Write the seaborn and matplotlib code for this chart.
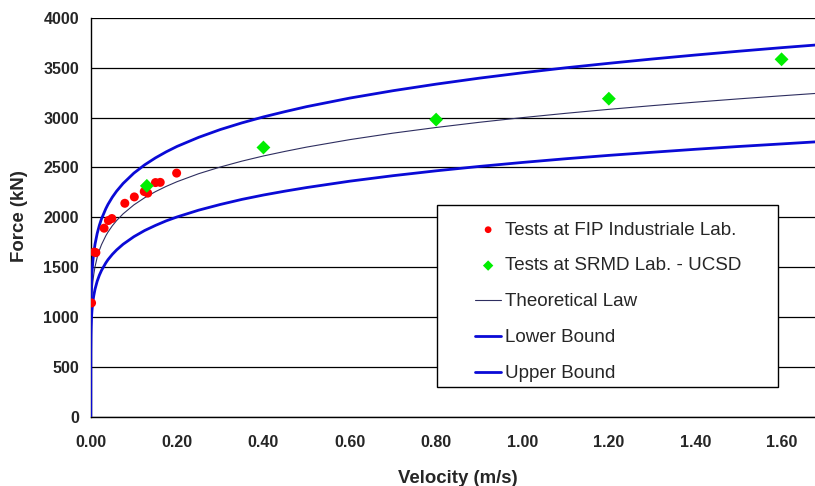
import matplotlib
matplotlib.use("Agg")
import matplotlib.pyplot as plt
from matplotlib.patches import Rectangle
from matplotlib.ticker import MultipleLocator, FormatStrFormatter
import seaborn as sns

# velocity samples along the curves (m/s) and forces (kN)
curve_velocity = [0.0, 0.0001, 0.0005, 0.001, 0.002, 0.003, 0.005, 0.007, 0.01, 0.015,
                  0.02, 0.025, 0.035, 0.04, 0.05, 0.06, 0.075, 0.1, 0.125, 0.15,
                  0.175, 0.2, 0.25, 0.3, 0.35, 0.4, 0.45, 0.5, 0.6, 0.7,
                  0.8, 0.9, 1.0, 1.1, 1.2, 1.3, 1.4, 1.5, 1.6, 1.68]
theoretical_force = [0, 754, 959, 1064, 1181, 1255, 1355, 1425, 1504, 1598,
                     1668, 1725, 1814, 1851, 1914, 1967, 2034, 2124, 2196, 2257,
                     2310, 2357, 2437, 2504, 2563, 2615, 2661, 2704, 2779, 2844,
                     2901, 2953, 3000, 3043, 3083, 3120, 3155, 3188, 3219, 3243]
lower_force = [0, 641, 815, 905, 1004, 1067, 1152, 1211, 1278, 1358,
               1418, 1466, 1542, 1574, 1627, 1672, 1729, 1805, 1867, 1918,
               1964, 2003, 2071, 2128, 2179, 2223, 2262, 2298, 2362, 2417,
               2466, 2510, 2550, 2587, 2621, 2652, 2682, 2710, 2736, 2757]
upper_force = [0, 867, 1103, 1224, 1358, 1443, 1558, 1639, 1730, 1837,
               1918, 1984, 2086, 2129, 2201, 2262, 2339, 2443, 2526, 2596,
               2657, 2711, 2802, 2880, 2947, 3007, 3060, 3110, 3196, 3270,
               3336, 3396, 3450, 3500, 3545, 3588, 3628, 3666, 3702, 3729]

# test results
fip_velocity = [0.002, 0.008, 0.012, 0.031, 0.041, 0.049, 0.079, 0.101, 0.124, 0.132,
                0.150, 0.161, 0.199]
fip_force = [1140, 1650, 1645, 1890, 1967, 1987, 2140, 2204, 2258, 2242,
             2348, 2350, 2443]
srmd_velocity = [0.13, 0.40, 0.80, 1.20, 1.60]
srmd_force = [2315, 2700, 2980, 3190, 3585]

sns.set_style("white")
plt.rcParams['font.family'] = ['Liberation Sans', 'DejaVu Sans']

fig = plt.figure(figsize=(8.15, 4.86), dpi=100)
ax = fig.add_axes([0.1113, 0.143, 0.889, 0.820])

bound_color = "#0a0ad6"
sns.lineplot(x=curve_velocity, y=theoretical_force, ax=ax, color="#2e2e60",
             lw=0.8, estimator=None, sort=False, label="Theoretical Law", zorder=3)
sns.lineplot(x=curve_velocity, y=lower_force, ax=ax, color=bound_color,
             lw=2.0, estimator=None, sort=False, label="Lower Bound", zorder=3)
sns.lineplot(x=curve_velocity, y=upper_force, ax=ax, color=bound_color,
             lw=2.0, estimator=None, sort=False, label="Upper Bound", zorder=3)
sns.scatterplot(x=fip_velocity, y=fip_force, ax=ax, color="#ff0000", s=42,
                marker="o", edgecolor="none", label="Tests at FIP Industriale Lab.", zorder=4)
sns.scatterplot(x=srmd_velocity, y=srmd_force, ax=ax, color="#00ee00", s=50,
                marker="D", edgecolor="none", label="Tests at SRMD Lab. - UCSD", zorder=5)

ax.set_xlim(0, 1.678)
ax.set_ylim(0, 4000)
ax.xaxis.set_major_locator(MultipleLocator(0.2))
ax.xaxis.set_minor_locator(MultipleLocator(0.1))
ax.xaxis.set_major_formatter(FormatStrFormatter('%.2f'))
ax.yaxis.set_major_locator(MultipleLocator(500))

ax.yaxis.grid(True, color="black", lw=0.9)
ax.set_axisbelow(True)
for side in ["top", "right"]:
    ax.spines[side].set_visible(False)
for side in ["left", "bottom"]:
    ax.spines[side].set_color("black")
    ax.spines[side].set_linewidth(1.0)

ax.tick_params(axis="x", which="both", direction="inout", length=5, width=1,
               color="black", pad=11)
ax.tick_params(axis="y", direction="out", length=3.5, width=1, color="black", pad=5)
ax.tick_params(labelsize=11.5)
for lab in ax.get_xticklabels() + ax.get_yticklabels():
    lab.set_fontweight("bold")

ax.set_xlabel("Velocity (m/s)", fontsize=13.4, fontweight="bold")
ax.set_ylabel("Force (kN)", fontsize=13.4, fontweight="bold")
ax.xaxis.set_label_coords(0.507, -0.133)
ax.yaxis.set_label_coords(-0.0866, 0.503)

# legend box
box = Rectangle((437 / 815, 1 - 387 / 486), 341 / 815, 182 / 486,
                transform=fig.transFigure, facecolor="white", edgecolor="black",
                lw=1.0, zorder=6)
ax.add_patch(box)

handles, labels = ax.get_legend_handles_labels()
order = [3, 4, 0, 1, 2]
leg = ax.legend([handles[i] for i in order], [labels[i] for i in order],
                loc="upper left", bbox_to_anchor=(475 / 815, 1 - 221.5 / 486),
                bbox_transform=fig.transFigure, frameon=False, fontsize=13.5,
                borderpad=0, borderaxespad=0, handlelength=1.4, handletextpad=0.2,
                labelspacing=1.0, markerscale=0.75)
leg.set_zorder(7)

fig.savefig("out.png", dpi=100)
